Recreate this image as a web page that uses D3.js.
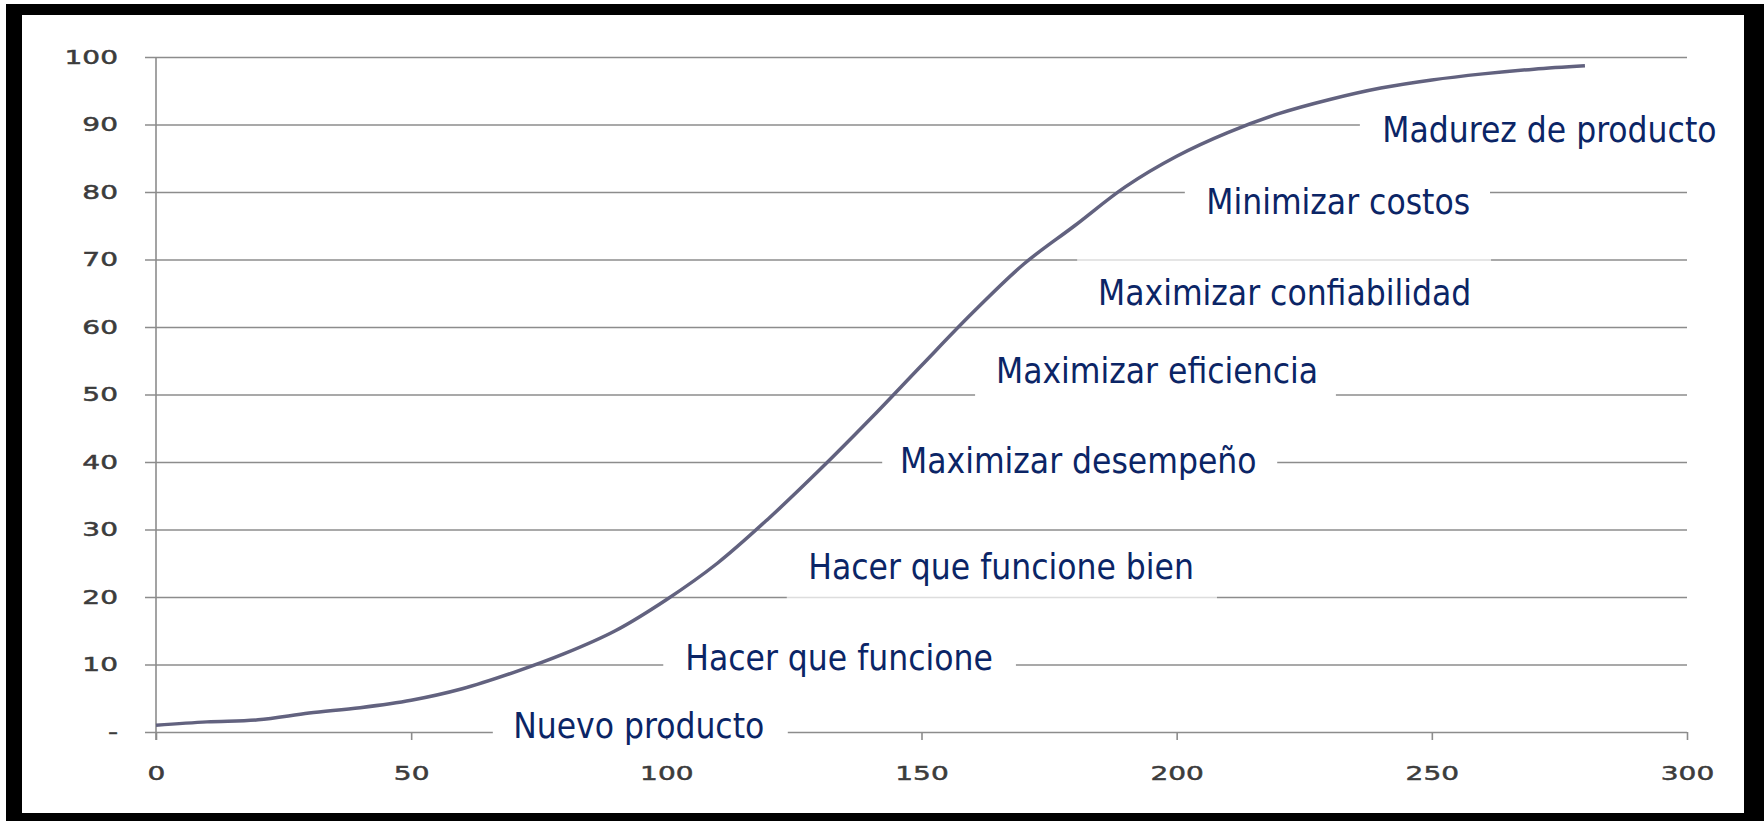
<!DOCTYPE html>
<html>
<head>
<meta charset="utf-8">
<script src="https://cdn.jsdelivr.net/npm/d3@7"></script>
<style>
  body { margin: 0; background: #fff; }
</style>
</head>
<body>
<div id="chart"></div>
<script>
// S-curve values
const xValues = [0, 10, 20, 30, 40, 50, 60, 70, 80, 90, 100, 110, 120, 130, 140,
  150, 160, 170, 180, 190, 200, 210, 220, 230, 240, 250, 260, 270, 280];
const yValues = [1.0, 1.5, 1.8, 2.8, 3.6, 4.7, 6.4, 8.8, 11.6, 15.0, 19.6, 25.0, 31.6, 38.8, 46.4,
  54.3, 62.1, 69.3, 75.0, 80.8, 85.3, 88.8, 91.6, 93.7, 95.4, 96.6, 97.5, 98.2, 98.7];

// tick labels
const xTicks = [0, 50, 100, 150, 200, 250, 300];
const yTicks = [0, 10, 20, 30, 40, 50, 60, 70, 80, 90, 100];
const yTickLabels = ["-", "10", "20", "30", "40", "50", "60", "70", "80", "90", "100"];

// stage labels
const stages = ["Nuevo producto", "Hacer que funcione", "Hacer que funcione bien",
  "Maximizar desempeño", "Maximizar eficiencia", "Maximizar confiabilidad",
  "Minimizar costos", "Madurez de producto"];

// where each stage label sits (in data units) and which gridline it breaks
const stageLayout = [
  {x: 70.0,  y: -0.9, grid: 0,  from: 66.0,  to: 123.8, faint: false},
  {x: 103.7, y: 9.2,  grid: 10, from: 99.4,  to: 168.5, faint: false},
  {x: 127.8, y: 22.7, grid: 20, from: 123.6, to: 207.9, faint: true},
  {x: 145.8, y: 38.4, grid: 40, from: 142.3, to: 219.7, faint: false},
  {x: 164.6, y: 51.7, grid: 50, from: 160.5, to: 231.2, faint: false},
  {x: 184.6, y: 63.3, grid: 70, from: 180.5, to: 261.6, faint: true},
  {x: 205.8, y: 76.7, grid: 80, from: 201.6, to: 261.4, faint: false},
  {x: 240.3, y: 87.4, grid: 90, from: 235.9, to: 300,   faint: false}
];

const width = 1764, height = 821;
const margins = {top: 57, right: 77, bottom: 89, left: 156};

const svg = d3.select("#chart")
  .append("svg")
  .attr("width", width)
  .attr("height", height);

// black frame
svg.append("rect")
  .attr("x", 6).attr("y", 4)
  .attr("width", width - 6).attr("height", height - 4)
  .attr("fill", "#000");
svg.append("rect")
  .attr("x", 22).attr("y", 15)
  .attr("width", 1722).attr("height", 798)
  .attr("fill", "#fff");

const x = d3.scaleLinear()
  .domain([0, 300])
  .range([margins.left, width - margins.right]);

const y = d3.scaleLinear()
  .domain([0, 100])
  .range([height - margins.bottom, margins.top]);

const gridColor = "#8c8c8c";
const tickColor = "#3c3c3c";
const tickStretch = 1.4;

// y axis with gridlines
const gridLeft = margins.left - 11;
const yAxis = d3.axisLeft(y)
  .tickValues(yTicks)
  .tickFormat((d, i) => yTickLabels[i])
  .tickSize(-(x.range()[1] - gridLeft))
  .tickSizeOuter(0);

const yGroup = svg.append("g")
    .attr("transform", `translate(${gridLeft},0)`)
  .call(yAxis)
  .call(g => g.select(".domain").remove());

yGroup.selectAll(".tick line")
  .attr("stroke", gridColor)
  .attr("stroke-width", 1.6);

yGroup.selectAll(".tick text")
  .attr("x", 0)
  .attr("transform", `translate(-27,0) scale(${tickStretch},1)`)
  .style("font-family", "'DejaVu Sans', Verdana, sans-serif")
  .style("font-size", "20px")
  .style("fill", tickColor)
  .style("stroke", tickColor)
  .style("stroke-width", 0.5);

// x axis
const xAxis = d3.axisBottom(x)
  .tickValues(xTicks)
  .tickSize(8)
  .tickSizeOuter(0)
  .tickPadding(0);

const xGroup = svg.append("g")
    .attr("transform", `translate(0,${y(0)})`)
  .call(xAxis)
  .call(g => g.select(".domain").remove());

xGroup.selectAll(".tick line")
  .attr("stroke", gridColor)
  .attr("stroke-width", 1.6);

xGroup.selectAll(".tick text")
  .attr("y", 0)
  .attr("dy", 0)
  .attr("transform", `translate(0,48) scale(${tickStretch},1)`)
  .style("font-family", "'DejaVu Sans', Verdana, sans-serif")
  .style("font-size", "20px")
  .style("fill", tickColor)
  .style("stroke", tickColor)
  .style("stroke-width", 0.5);

// vertical axis line
svg.append("line")
  .attr("x1", x(0)).attr("x2", x(0))
  .attr("y1", y(100)).attr("y2", y(0) + 8)
  .attr("stroke", gridColor)
  .attr("stroke-width", 1.6);

// white patches where labels break the gridlines
svg.append("g")
  .selectAll("rect")
  .data(stageLayout)
  .join("rect")
    .attr("x", d => x(d.from))
    .attr("y", d => y(d.grid) - 3)
    .attr("width", d => x(d.to) - x(d.from))
    .attr("height", 6)
    .attr("fill", "#fff")
    .attr("fill-opacity", d => d.faint ? 0.7 : 1);

// the S-curve
const points = xValues.map((v, i) => [v, yValues[i]]);
const line = d3.line()
  .curve(d3.curveCatmullRom.alpha(0.5))
  .x(d => x(d[0]))
  .y(d => y(d[1]));

svg.append("path")
  .datum(points)
  .attr("d", line)
  .attr("fill", "none")
  .attr("stroke", "#62627f")
  .attr("stroke-width", 3.5);

// stage labels
svg.append("g")
  .selectAll("text")
  .data(stages)
  .join("text")
    .attr("x", (d, i) => x(stageLayout[i].x))
    .attr("y", (d, i) => y(stageLayout[i].y))
    .style("font-family", "'DejaVu Sans Condensed', 'DejaVu Sans', sans-serif")
    .style("font-stretch", "condensed")
    .style("font-size", "35px")
    .style("fill", "#0b2566")
    .text(d => d);
</script>
</body>
</html>
